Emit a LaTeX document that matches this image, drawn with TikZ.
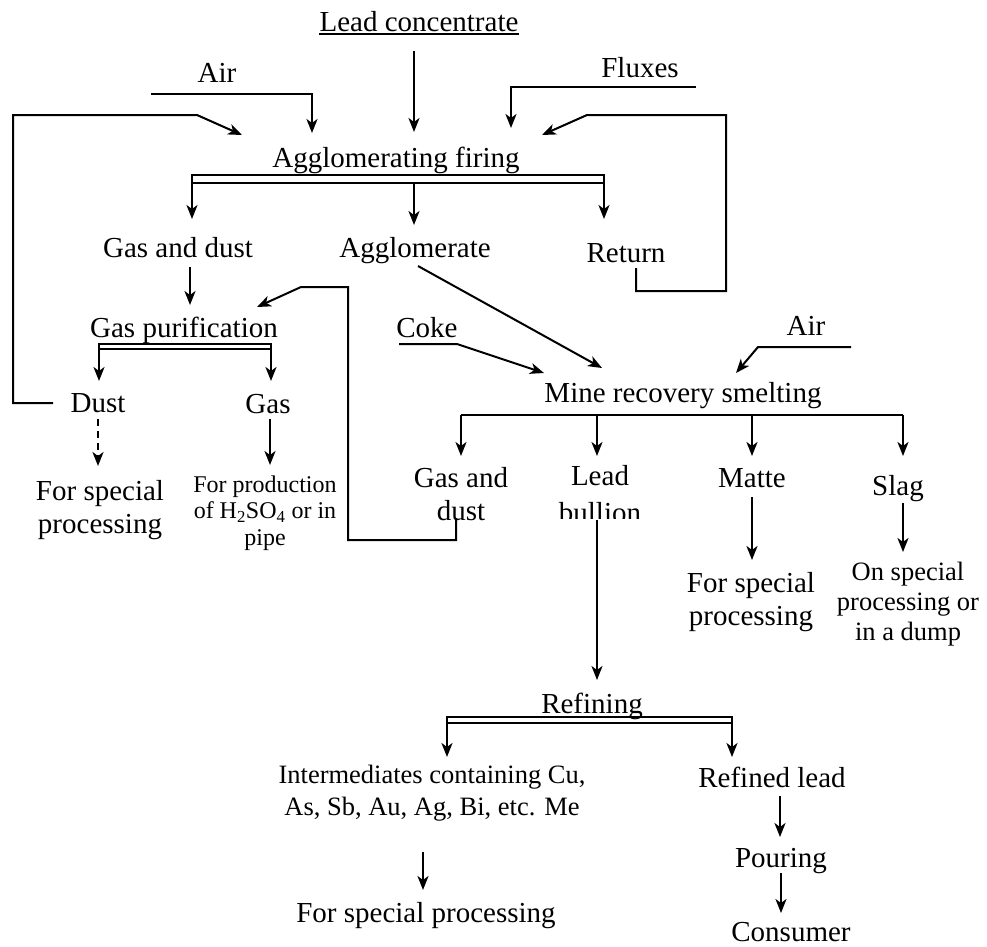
\documentclass[tikz,border=0pt]{standalone}
\usepackage{fontspec}
\setmainfont{Liberation Serif}
\usetikzlibrary{arrows.meta}
\tikzset{
  ln/.style={line width=2pt},
  arr/.style={ln,-{Stealth[length=14pt,width=11pt,inset=4pt]}},
  txt/.style={inner sep=0pt,anchor=base,font=\fontsize{29pt}{33pt}\selectfont},
  txtm/.style={inner sep=0pt,anchor=base,align=center,font=\fontsize{29pt}{33pt}\selectfont},
  txts/.style={inner sep=0pt,anchor=base,align=center,font=\fontsize{26.5pt}{31pt}\selectfont},
  txtxs/.style={inner sep=0pt,anchor=base,align=center,font=\fontsize{24pt}{26.5pt}\selectfont},
}
\begin{document}
\begin{tikzpicture}[x=1pt,y=-1pt]
\useasboundingbox[fill=white] (0,0) rectangle (987,946);
% ---------- texts (multi-line nodes: base = last line) ----------
\node[txt] (lc) at (419,31) {Lead concentrate};
\node[txt] (air1) at (217,82) {Air};
\node[txt] (flux) at (640,77) {Fluxes};
\node[txt] (af) at (396,167) {Agglomerating firing};
\node[txt] (gd1) at (178,257) {Gas and dust};
\node[txt] (agg) at (415,257) {Agglomerate};
\node[txt] (ret) at (626,262) {Return};
\node[txt] (gp) at (184,337) {Gas purification};
\node[txt] (dust) at (98,412) {Dust};
\node[txt] (gas) at (268,413) {Gas};
\node[txtm] (fsp1) at (100,533) {For special\\processing};
\node[txtxs] (fprod) at (265,545) {For production\\of H\textsubscript{2}SO\textsubscript{4} or in\\pipe};
\node[txt] (coke) at (427,337) {Coke};
\node[txt] (air2) at (806,335) {Air};
\node[txt] (mrs) at (683,402) {Mine recovery smelting};
\node[txtm] (gd2) at (461,520) {Gas and\\dust};
\begin{scope}
\clip (540,440) rectangle (660,518);
\node[txtm,font=\fontsize{29pt}{37pt}\selectfont] (lb) at (600,522) {Lead\\bullion};
\end{scope}
\node[txt] (matte) at (752,487) {Matte};
\node[txtm] (fsp2) at (751,625) {For special\\processing};
\node[txt] (slag) at (898,495) {Slag};
\node[txts,font=\fontsize{26.5pt}{30pt}\selectfont] (onsp) at (908,640) {On special\\processing or\\in a dump};
\node[txt] (ref) at (592,713) {Refining};
\node[txts,font=\fontsize{26.5pt}{32pt}\selectfont] (inter) at (432,815) {Intermediates containing Cu,\\As, Sb, Au, Ag, Bi, etc. Me};
\node[txt] (fsp3) at (426,922) {For special processing};
\node[txt] (rl) at (772,787) {Refined lead};
\node[txt] (pour) at (781,867) {Pouring};
\node[txt] (cons) at (791,941) {Consumer};
% underline of lead concentrate
\draw[ln] ([yshift=-2.5pt]lc.base west) -- ([yshift=-2.5pt]lc.base east);
% ---------- coordinates ----------
\coordinate (lcA) at (414,51);  \coordinate (lcB) at (414,132);
\coordinate (a1A) at (151,94);  \coordinate (a1B) at (312,94); \coordinate (a1C) at (312,133);
\coordinate (rcA) at (53,403);  \coordinate (rcB) at (13,403); \coordinate (rcC) at (13,115);
\coordinate (rcD) at (197,115); \coordinate (rcE) at (242,135);
\coordinate (fxA) at (696,87);  \coordinate (fxB) at (511,87); \coordinate (fxC) at (511,128);
\coordinate (rtA) at (636,268); \coordinate (rtB) at (636,291); \coordinate (rtC) at (726,291);
\coordinate (rtD) at (726,115); \coordinate (rtE) at (587,115); \coordinate (rtF) at (542,135);
\coordinate (afL) at (192,175); \coordinate (afR) at (604,183);
\coordinate (afM) at (414,183);
\coordinate (gdA) at (190,267); \coordinate (gdB) at (190,305);
\coordinate (gpL) at (99,344);  \coordinate (gpR) at (271,349);
\coordinate (duA) at (98,419);  \coordinate (duB) at (98,466);
\coordinate (gaA) at (270,419); \coordinate (gaB) at (270,465);
\coordinate (g2A) at (456,518); \coordinate (g2B) at (456,540); \coordinate (g2C) at (348,540);
\coordinate (g2D) at (348,287); \coordinate (g2E) at (301,287); \coordinate (g2F) at (257,307);
\coordinate (agA) at (418,266); \coordinate (agB) at (602,368);
\coordinate (ckA) at (399,344); \coordinate (ckB) at (457,344); \coordinate (ckC) at (544,373);
\coordinate (a2A) at (851,347); \coordinate (a2B) at (758,347); \coordinate (a2C) at (736,373);
\coordinate (mbL) at (461,415); \coordinate (mbR) at (903,415);
\coordinate (lbA) at (597,520); \coordinate (lbB) at (597,680);
\coordinate (maA) at (752,497); \coordinate (maB) at (752,560);
\coordinate (slA) at (903,503); \coordinate (slB) at (903,552);
\coordinate (rbL) at (447,717); \coordinate (rbR) at (732,723);
\coordinate (inA) at (423,852); \coordinate (inB) at (423,890);
\coordinate (rlA) at (780,796); \coordinate (rlB) at (780,837);
\coordinate (poA) at (781,873); \coordinate (poB) at (781,913);
% ---------- connectors ----------
\draw[arr] (lcA) -- (lcB);
\draw[arr] (a1A) -- (a1B) -- (a1C);
\draw[arr] (rcA) -- (rcB) -- (rcC) -- (rcD) -- (rcE);
\draw[arr] (fxA) -- (fxB) -- (fxC);
\draw[arr] (rtA) -- (rtB) -- (rtC) -- (rtD) -- (rtE) -- (rtF);
\draw[ln] (afL) rectangle (afR);
\draw[arr] (afL) -- (192,219);
\draw[arr] (afR |- afL) -- (604,219);
\draw[arr] (afM) -- (414,225);
\draw[arr] (gdA) -- (gdB);
\draw[ln] (gpL) rectangle (gpR);
\draw[arr] (gpL) -- (99,381);
\draw[arr] (gpR |- gpL) -- (271,381);
\draw[arr,dash pattern=on 7pt off 5pt] (duA) -- (duB);
\draw[arr] (gaA) -- (gaB);
\draw[arr] (g2A) -- (g2B) -- (g2C) -- (g2D) -- (g2E) -- (g2F);
\draw[arr] (agA) -- (agB);
\draw[arr] (ckA) -- (ckB) -- (ckC);
\draw[arr] (a2A) -- (a2B) -- (a2C);
\draw[ln] (mbL) -- (mbR);
\draw[arr] (mbL) -- (461,456);
\draw[arr] (597,415) -- (597,456);
\draw[arr] (752,415) -- (752,456);
\draw[arr] (mbR) -- (903,456);
\draw[arr] (lbA) -- (lbB);
\draw[arr] (maA) -- (maB);
\draw[arr] (slA) -- (slB);
\draw[ln] (rbL) rectangle (rbR);
\draw[arr] (rbL) -- (447,757);
\draw[arr] (rbR |- rbL) -- (732,757);
\draw[arr] (inA) -- (inB);
\draw[arr] (rlA) -- (rlB);
\draw[arr] (poA) -- (poB);
\end{tikzpicture}
\end{document}
